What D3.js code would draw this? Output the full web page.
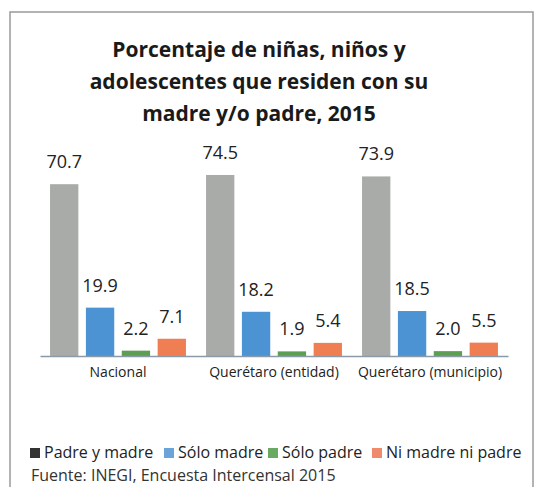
<!DOCTYPE html>
<html>
<head>
<meta charset="utf-8">
<script src="https://cdn.jsdelivr.net/npm/d3@7"></script>
<style>
  body { margin: 0; background: #fff; }
  svg { display: block; font-family: "Open Sans", "Noto Sans", sans-serif; }
</style>
</head>
<body>
<div id="chart"></div>
<script>
// data
var categories = ["Nacional", "Querétaro (entidad)", "Querétaro (municipio)"];
var seriesNames = ["Padre y madre", "Sólo madre", "Sólo padre", "Ni madre ni padre"];
var padreYMadre = [70.7, 74.5, 73.9];
var soloMadre = [19.9, 18.2, 18.5];
var soloPadre = [2.2, 1.9, 2.0];
var niMadreNiPadre = [7.1, 5.4, 5.5];
var titleLines = ["Porcentaje de niñas, niños y", "adolescentes que residen con su", "madre y/o padre, 2015"];
var source = "Fuente: INEGI, Encuesta Intercensal 2015";

var barColors = ["#a9aba9", "#4b93d2", "#5c9e52", "#ef7f52"];
var legendColors = ["#333333", "#6aa4d8", "#6aa962", "#ef8a6c"];

var W = 538, H = 487;
var svg = d3.select("#chart").append("svg").attr("width", W).attr("height", H);

// scanned frame
svg.append("path")
	.attr("d", "M10,487 V12 H533 V487")
	.attr("fill", "none")
	.attr("stroke", "#9a9a9a")
	.attr("stroke-width", 1.5);

// title
svg.selectAll(".title").data(titleLines).enter()
	.append("text")
	.attr("class", "title")
	.attr("x", 259)
	.attr("y", function(d, i) { return 57 + i * 32; })
	.attr("text-anchor", "middle")
	.style("font-size", "21px")
	.style("font-weight", "bold")
	.style("fill", "#1a1a1a")
	.text(function(d) { return d; });

var plot = {left: 40, right: 508, bottom: 356};

var x0 = d3.scaleBand().domain(categories).range([plot.left, plot.right]).paddingInner(0).paddingOuter(0);
var x1 = d3.scaleBand().domain(d3.range(4)).range([0, x0.bandwidth()]).paddingInner(0.21).paddingOuter(0.28);
var y = d3.scaleLinear().domain([0, 100]).range([plot.bottom, plot.bottom - 243]);

var rows = categories.map(function(c, i) {
	return {cat: c, vals: [padreYMadre[i], soloMadre[i], soloPadre[i], niMadreNiPadre[i]]};
});

var groups = svg.selectAll(".grp").data(rows).enter()
	.append("g")
	.attr("class", "grp")
	.attr("transform", function(d) { return "translate(" + x0(d.cat) + ",0)"; });

groups.selectAll("rect").data(function(d) { return d.vals; }).enter()
	.append("rect")
	.attr("x", function(d, i) { return x1(i); })
	.attr("y", function(d) { return y(d); })
	.attr("width", x1.bandwidth())
	.attr("height", function(d) { return plot.bottom - y(d); })
	.attr("fill", function(d, i) { return barColors[i]; });

groups.selectAll(".val").data(function(d) { return d.vals; }).enter()
	.append("text")
	.attr("class", "val")
	.attr("x", function(d, i) { return x1(i) + x1.bandwidth() / 2; })
	.attr("y", function(d) { return y(d) - 16; })
	.attr("text-anchor", "middle")
	.style("font-size", "18px")
	.style("fill", "#222")
	.text(function(d) { return d.toFixed(1); });

// axis
var xAxis = svg.append("g")
	.attr("transform", "translate(0," + plot.bottom + ")")
	.call(d3.axisBottom(x0).tickSize(0).tickPadding(11));
xAxis.select(".domain").attr("stroke", "#8a9aa8").attr("stroke-width", 1.5);
xAxis.selectAll("text")
	.style("font-family", "'Open Sans', 'Noto Sans', sans-serif")
	.style("font-size", "14px")
	.style("fill", "#222");

// legend
var legendX = [30, 164, 268, 372];
var legend = svg.selectAll(".leg").data(seriesNames).enter()
	.append("g")
	.attr("class", "leg")
	.attr("transform", function(d, i) { return "translate(" + legendX[i] + ",458)"; });
legend.append("rect")
	.attr("width", 10).attr("height", 10).attr("y", -10)
	.attr("fill", function(d, i) { return legendColors[i]; });
legend.append("text")
	.attr("x", 14)
	.attr("y", 0)
	.style("font-size", "16px")
	.style("fill", "#222")
	.text(function(d) { return d; });

svg.append("text")
	.attr("x", 31)
	.attr("y", 481)
	.style("font-size", "16px")
	.style("fill", "#333")
	.text(source);
</script>
</body>
</html>
